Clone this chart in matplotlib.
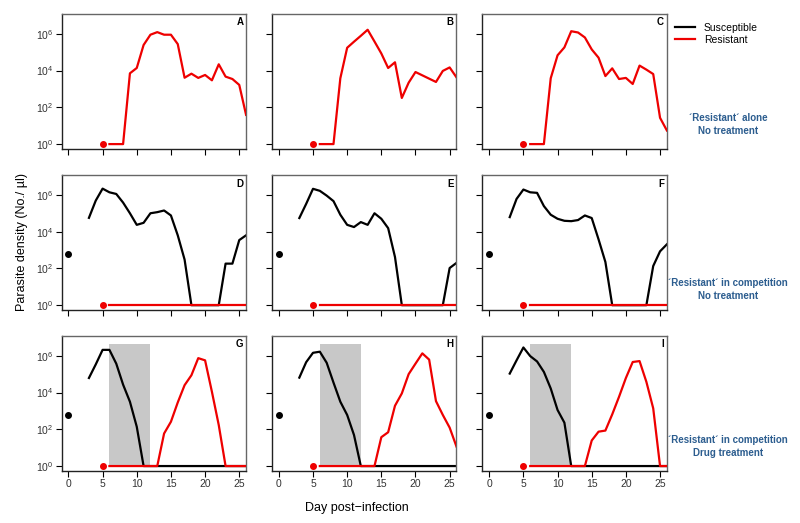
import numpy as np
import matplotlib.pyplot as plt

plt.rcParams['font.family'] = ['Liberation Sans', 'DejaVu Sans']
plt.rcParams['mathtext.default'] = 'regular'

# days of sampling
sus_days = list(range(3, 27))
res_days = list(range(6, 27))

# log10 parasite density
res_A = [0, 0, 0, 3.85, 4.14, 5.39, 5.95, 6.09, 5.95, 5.95, 5.44, 3.61, 3.83, 3.6, 3.76, 3.47, 4.34, 3.67, 3.54, 3.22, 1.59]
res_B = [0, 0, 0, 3.58, 5.24, 5.57, 5.89, 6.22, 5.58, 4.93, 4.14, 4.45, 2.51, 3.34, 3.92, 3.74, 3.56, 3.38, 3.98, 4.17, 3.63]
res_C = [0, 0, 0, 3.58, 4.83, 5.26, 6.14, 6.07, 5.8, 5.15, 4.7, 3.7, 4.12, 3.54, 3.6, 3.27, 4.27, 4.05, 3.81, 1.43, 0.74]

sus_D = [4.75, 5.69, 6.34, 6.14, 6.05, 5.58, 5.0, 4.37, 4.48, 5.0, 5.06, 5.15, 4.88, 3.8, 2.48, 0, 0, 0, 0, 0, 2.26, 2.26, 3.54, 3.8]
sus_E = [4.74, 5.51, 6.33, 6.22, 5.96, 5.66, 4.92, 4.37, 4.25, 4.52, 4.37, 5.0, 4.7, 4.19, 2.62, 0, 0, 0, 0, 0, 0, 0, 2.02, 2.3]
sus_F = [4.79, 5.78, 6.29, 6.14, 6.11, 5.39, 4.92, 4.7, 4.59, 4.57, 4.63, 4.88, 4.74, 3.58, 2.35, 0, 0, 0, 0, 0, 0, 2.13, 2.93, 3.31]
res_DEF = [0] * 21

sus_G = [4.79, 5.53, 6.32, 6.32, 5.57, 4.43, 3.5, 2.14] + [0] * 16
res_G = [0] * 8 + [1.77, 2.41, 3.46, 4.4, 4.94, 5.87, 5.75, 4.04, 2.23] + [0] * 4
sus_H = [4.81, 5.65, 6.16, 6.22, 5.62, 4.54, 3.5, 2.78, 1.69] + [0] * 15
res_H = [0] * 9 + [1.57, 1.84, 3.28, 3.95, 5.0, 5.57, 6.13, 5.79, 3.53, 2.78, 2.09, 1.06]
sus_I = [5.03, 5.75, 6.45, 5.98, 5.69, 5.12, 4.22, 3.05, 2.36] + [0] * 15
res_I = [0] * 9 + [1.39, 1.87, 1.93, 2.81, 3.77, 4.79, 5.66, 5.71, 4.58, 3.14, 0, 0]

sus_inoc = 2.8   # day 0
res_inoc = 0.0   # day 5
drug_days = (6, 12)
drug_top = 6.65

panels = [
    ('A', None, res_A), ('B', None, res_B), ('C', None, res_C),
    ('D', sus_D, res_DEF), ('E', sus_E, res_DEF), ('F', sus_F, res_DEF),
    ('G', sus_G, res_G), ('H', sus_H, res_H), ('I', sus_I, res_I),
]
row_labels = ["´Resistant´ alone\nNo treatment",
              "´Resistant´ in competition\nNo treatment",
              "´Resistant´ in competition\nDrug treatment"]

red = '#ee0000'
blue = '#2c5d8f'

fig = plt.figure(figsize=(8, 5.23), dpi=100)
lefts = [0.077, 0.34, 0.603]
bottoms = [0.715, 0.407, 0.0994]
w, h = 0.2306, 0.258

for i, (letter, sus, res) in enumerate(panels):
    r, c = divmod(i, 3)
    ax = fig.add_axes([lefts[c], bottoms[r], w, h])
    if r == 2:
        ax.fill_between(drug_days, 1, 10 ** drug_top, color='#c8c8c8', lw=0, zorder=1)
    if sus is not None:
        ax.plot(0, 10 ** sus_inoc, 'o', color='black', ms=4, zorder=3)
        ax.plot(sus_days, 10 ** np.array(sus), color='black', lw=1.6, zorder=2)
    ax.plot(res_days, 10 ** np.array(res), color=red, lw=1.6, zorder=3)
    ax.plot(5, 10 ** res_inoc, 'o', color=red, ms=4, zorder=3)
    ax.set_yscale('log')
    ax.set_xlim(-1, 26)
    ax.set_ylim(10 ** -0.27, 10 ** 7.07)
    ax.set_yticks([1, 1e2, 1e4, 1e6])
    ax.minorticks_off()
    ax.set_xticks([0, 5, 10, 15, 20, 25])
    ax.tick_params(length=4, width=0.8, labelsize=7.5, pad=2, labelcolor='#333333')
    if c == 0:
        ax.set_yticklabels([r'$10^{0}$', r'$10^{2}$', r'$10^{4}$', r'$10^{6}$'])
    else:
        ax.set_yticklabels([])
    if r != 2:
        ax.set_xticklabels([])
    for name, s in ax.spines.items():
        s.set_color('#222222' if name in ('left', 'bottom') else '#666666')
        s.set_linewidth(1.0)
    ax.text(0.985, 0.975, letter, transform=ax.transAxes, ha='right', va='top',
            fontsize=7, fontweight='bold')

for r, lab in enumerate(row_labels):
    fig.text(0.91, [0.765, 0.45, 0.15][r] - 0.003, lab, ha='center', va='center',
             color=blue, fontsize=7, fontweight='bold', linespacing=1.4)

# legend
fig.legend(handles=[plt.Line2D([], [], color='black', lw=1.6),
                    plt.Line2D([], [], color=red, lw=1.6)],
           labels=['Susceptible', 'Resistant'], loc='upper left',
           bbox_to_anchor=(0.838, 0.964), frameon=False, fontsize=7.5,
           handlelength=2.0, handletextpad=0.8, labelspacing=0.15, borderaxespad=0)

fig.text(0.027, 0.537, 'Parasite density (No./ µl)', rotation=90, ha='center',
         va='center', fontsize=9)
fig.text(0.446, 0.028, 'Day post\u2212infection', ha='center', va='center', fontsize=9)

fig.savefig('out.png', dpi=100)
